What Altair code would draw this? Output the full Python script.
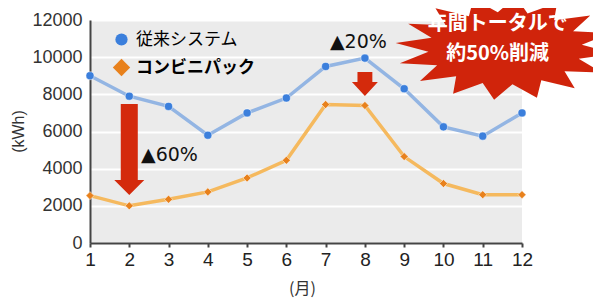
import altair as alt
import pandas as pd
import numpy as np

# ---- data ----
months = list(range(1, 13))
series_names = ["従来システム", "コンビニパック"]
conventional = [9000, 7900, 7350, 5800, 7000, 7800, 9500, 9950, 8300, 6250, 5750, 7000]
conbinipack = [2550, 2000, 2350, 2750, 3500, 4450, 7450, 7400, 4650, 3200, 2600, 2600]
y_ticks = [0, 2000, 4000, 6000, 8000, 10000, 12000]

note_texts = ["▲60%", "▲20%"]
note_months = [2.30, 7.11]
note_values = [4760, 10800]

arrow_months = [2, 8]
arrow_values = [5030, 8550]

badge_lines = ["年間トータルで", "約50%削減"]
badge_months = [11.38, 11.38]
badge_values = [11770, 10160]
star_month = [11.57]
star_value = [10480]

# ---- tables ----
df = pd.DataFrame({
    "month": months * 2,
    "kwh": conventional + conbinipack,
    "series": [series_names[0]] * 12 + [series_names[1]] * 12,
})
notes = pd.DataFrame({"t": note_texts, "month": note_months, "kwh": note_values})
badge = pd.DataFrame({"t": badge_lines, "month": badge_months, "kwh": badge_values})
star = pd.DataFrame({"month": star_month, "kwh": star_value})
arrow_big = pd.DataFrame({"month": arrow_months[:1], "kwh": arrow_values[:1]})
arrow_small = pd.DataFrame({"month": arrow_months[1:], "kwh": arrow_values[1:]})

JP = "Noto Sans CJK JP"
NUM = "Liberation Sans"

xs = alt.Scale(domain=[1, 12], nice=False, zero=False)
ys = alt.Scale(domain=[0, 12000], nice=False)


def star_path(n=16, inner=0.70, squash=0.47):
    pts = []
    for i in range(2 * n):
        a = np.pi * i / n + 0.1
        r = 1.0 if i % 2 == 0 else inner
        pts.append((r * np.cos(a), r * np.sin(a) * squash))
    return "M" + " L".join(f"{x:.3f},{y:.3f}" for x, y in pts) + " Z"


big_arrow_path = "M-0.187,-1 L0.187,-1 L0.187,0.67 L0.33,0.67 L0,1 L-0.33,0.67 L-0.187,0.67 Z"
small_arrow_path = "M-0.62,-1 L0.62,-1 L0.62,-0.17 L1.08,-0.17 L0,1 L-1.08,-0.17 L-0.62,-0.17 Z"

x_axis = alt.Axis(
    values=months, grid=False, labelFont=NUM, labelFontSize=19, labelColor="#222",
    labelOverlap=False, labelFlush=False, format="d",
    tickSize=4, tickColor="#444", tickWidth=2, domainColor="#444", domainWidth=2,
    labelPadding=3, title="(月)", titleFont=JP, titleFontSize=16, titleFontWeight="normal",
    titleColor="#333", titleX=212, titleY=45, titleBaseline="middle", titleAlign="center")
y_axis = alt.Axis(
    values=y_ticks, grid=True, gridColor="white", gridWidth=2, ticks=False,
    labelOverlap=False, labelFlush=False, format="d",
    labelFont=NUM, labelFontSize=18, labelColor="#333", labelPadding=8,
    domainColor="#444", domainWidth=2,
    title="(kWh)", titleFont=NUM, titleFontSize=16, titleFontWeight="normal", titleColor="#333",
    titleAngle=-90, titleX=-72, titleY=111, titleBaseline="middle", titleAlign="center")


def X():
    return alt.X("month:Q", scale=xs, axis=x_axis)


def Y():
    return alt.Y("kwh:Q", scale=ys, axis=y_axis)


line_a = alt.Chart(df).transform_filter(alt.datum.series == series_names[0]).mark_line(
    strokeWidth=3.5, color="#93b5e3").encode(x=X(), y=Y())
line_b = alt.Chart(df).transform_filter(alt.datum.series == series_names[1]).mark_line(
    strokeWidth=3.5, color="#f5b95e").encode(x=X(), y=Y())

points = alt.Chart(df).mark_point(filled=True, opacity=1, size=65, stroke="white", strokeWidth=0.5).encode(
    x=X(), y=Y(),
    color=alt.Color("series:N", scale=alt.Scale(domain=series_names, range=["#3b7fdc", "#e8811c"]),
                    legend=alt.Legend(
                        title=None, orient="none", legendX=23, legendY=11, padding=0,
                        symbolSize={"expr": "datum.label == 'コンビニパック' ? 300 : 150"},
                        symbolStrokeWidth=0,
                        labelFont=JP, labelFontSize=17, labelOffset=6,
                        labelFontWeight={"expr": "datum.label == 'コンビニパック' ? 'bold' : 'normal'"},
                        rowPadding=10)),
    shape=alt.Shape("series:N", scale=alt.Scale(domain=series_names, range=["circle", "diamond"])),
)

arrows_b = alt.Chart(arrow_big).mark_point(shape=big_arrow_path, size=8281, filled=True,
                                           color="#d42a0c", opacity=1).encode(x=X(), y=Y())
arrows_s = alt.Chart(arrow_small).mark_point(shape=small_arrow_path, size=576, filled=True,
                                             color="#d42a0c", opacity=1).encode(x=X(), y=Y())

note_text = alt.Chart(notes).mark_text(font="DejaVu Sans", fontSize=19, align="left",
                                       baseline="middle", color="#111").encode(
    x=X(), y=Y(), text="t:N")

star_mark = alt.Chart(star).mark_point(shape=star_path(), size=48400, filled=True,
                                       color="#d0240b", opacity=1).encode(x=X(), y=Y())
badge_text = alt.Chart(badge).mark_text(font=JP, fontSize=20, fontWeight="bold", align="center",
                                        baseline="middle", color="white").encode(
    x=X(), y=Y(), text="t:N")

chart = alt.layer(line_a, line_b, points, arrows_b, arrows_s, note_text, star_mark, badge_text).properties(
    width=432, height=223,
    autosize=alt.AutoSizeParams(type="none"),
    padding={"left": 82, "top": 12, "right": 71, "bottom": 55},
).configure_view(fill="#ebebeb", strokeWidth=0)

chart.save("out.html", embed_options={"renderer": "svg", "actions": False})
